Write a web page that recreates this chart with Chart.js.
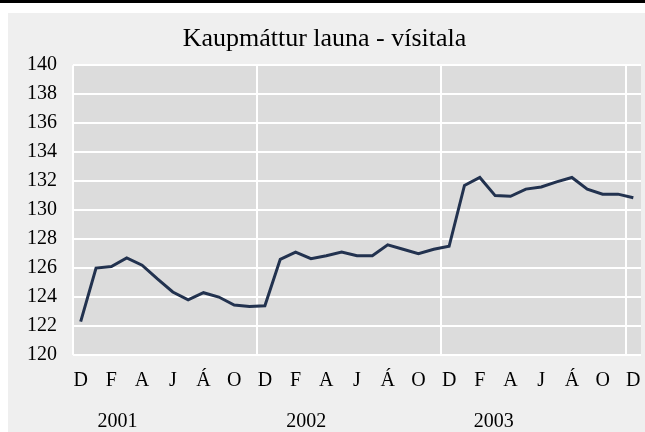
<!DOCTYPE html>
<html>
<head>
<meta charset="utf-8">
<script src="https://cdn.jsdelivr.net/npm/chart.js@4/dist/chart.umd.min.js"></script>
<style>
  html, body { margin: 0; padding: 0; background: #ffffff; width: 645px; height: 432px; overflow: hidden; }
  #topbar { position: absolute; left: 0; top: 0; width: 645px; height: 3px; background: #000; }
  #wrap { position: absolute; left: 8px; top: 13px; width: 637px; height: 419px; background: #efefef; }
</style>
</head>
<body>
<div id="topbar"></div>
<div id="wrap"><canvas id="c"></canvas></div>
<script>
// Month labels (Dec 2000 .. Dec 2003)
const monthLabels = [
  'D',
  'J','F','M','A','M','J','J','Á','S','O','N','D',
  'J','F','M','A','M','J','J','Á','S','O','N','D',
  'J','F','M','A','M','J','J','Á','S','O','N','D'
];
// Kaupmáttur launa - vísitala
const indexValues = [
  122.3,
  126.0, 126.1, 126.7, 126.2, 125.25, 124.35, 123.8, 124.3, 124.0, 123.45, 123.35, 123.4,
  126.6, 127.1, 126.65, 126.85, 127.1, 126.85, 126.85, 127.6, 127.3, 127.0, 127.3, 127.5,
  131.7, 132.25, 131.0, 130.95, 131.45, 131.6, 131.95, 132.25, 131.45, 131.1, 131.1, 130.85
];
const yearLabels = ['2001', '2002', '2003'];
const yearLabelPos = [2.4, 14.7, 26.9];
const yTicks = { min: 120, max: 140, step: 2 };
const titleText = 'Kaupmáttur launa - vísitala';

const serif = "'Liberation Serif', 'Times New Roman', 'DejaVu Serif', serif";

const plotBg = {
  id: 'plotBg',
  beforeDraw(chart) {
    const a = chart.chartArea, ctx = chart.ctx;
    ctx.save();
    ctx.fillStyle = '#dcdcdc';
    ctx.fillRect(a.left, a.top, a.right - a.left, a.bottom - a.top);
    ctx.restore();
  }
};

new Chart(document.getElementById('c'), {
  type: 'line',
  data: {
    labels: monthLabels,
    datasets: [{
      data: indexValues,
      borderColor: '#22324f',
      borderWidth: 3,
      pointRadius: 0,
      tension: 0,
      fill: false
    }]
  },
  options: {
    responsive: true,
    maintainAspectRatio: false,
    animation: false,
    layout: { padding: { left: 0, right: 4, top: 0, bottom: 0 } },
    plugins: {
      legend: { display: false },
      tooltip: { enabled: false },
      title: {
        display: true,
        text: titleText,
        color: '#000',
        font: { family: serif, size: 26, weight: 'normal', lineHeight: 1.2 },
        padding: { top: 11, bottom: 10 }
      }
    },
    scales: {
      x: {
        type: 'category',
        position: 'bottom',
        offset: true,
        grid: {
          offset: true,
          drawTicks: true,
          tickLength: 14,
          tickColor: 'rgba(0,0,0,0)',
          lineWidth: 2,
          color: (ctx) => (ctx.index % 12 === 0 || ctx.index === monthLabels.length) ? '#ffffff' : 'rgba(0,0,0,0)'
        },
        border: { display: false },
        ticks: {
          autoSkip: false,
          maxRotation: 0,
          minRotation: 0,
          padding: 0,
          color: '#000',
          font: { family: serif, size: 20, lineHeight: 1.2 },
          callback: (v, i) => (i % 2 === 0 ? monthLabels[i] : '')
        },
        afterFit: (s) => { s.height = 44; s.paddingLeft = 0; s.paddingRight = 0; }
      },
      years: {
        type: 'linear',
        position: 'bottom',
        min: -0.5,
        max: monthLabels.length - 0.5,
        offset: false,
        grid: { display: false, drawTicks: false },
        border: { display: false },
        afterBuildTicks: (s) => { s.ticks = yearLabelPos.map(v => ({ value: v })); },
        ticks: {
          autoSkip: false,
          maxRotation: 0,
          minRotation: 0,
          padding: 11,
          color: '#000',
          font: { family: serif, size: 20, lineHeight: 1.2 },
          callback: (v, i) => yearLabels[i]
        },
        afterFit: (s) => { s.height = 33; s.paddingLeft = 0; s.paddingRight = 0; }
      },
      y: {
        min: yTicks.min,
        max: yTicks.max,
        grid: { color: '#ffffff', lineWidth: 2, drawTicks: false },
        border: { display: false },
        ticks: {
          stepSize: yTicks.step,
          padding: 16,
          color: '#000',
          font: { family: serif, size: 20, lineHeight: 1.2 }
        },
        afterFit: (s) => { s.width = 65; }
      }
    }
  },
  plugins: [plotBg]
});
</script>
</body>
</html>
